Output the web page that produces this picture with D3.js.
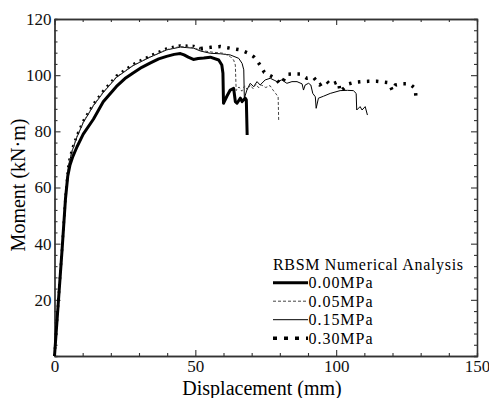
<!DOCTYPE html>
<html><head><meta charset="utf-8">
<script src="https://cdn.jsdelivr.net/npm/d3@7/dist/d3.min.js"></script>
<style>
html,body{margin:0;padding:0;background:#fff;}
svg text{font-family:"Liberation Serif","Times New Roman",serif;}
</style></head>
<body><svg id="c" width="489" height="398"></svg>
<script>
// ---- data (displacement mm, moment kN·m) ----
const legendTitle = "RBSM Numerical Analysis";
const seriesNames = ["0.00MPa","0.05MPa","0.15MPa","0.30MPa"];
const xTickLabels = [0,50,100,150];
const yTickLabels = [20,40,60,80,100,120];

const mpa000 = [[0,0],[2.7,38],[3.9,56],[4.7,64],[5.5,68],[6.5,71],[8,74.5],[10.2,79],[13.8,84.3],[17.3,90.5],[22,96],[25,98.8],[27.9,100.8],[31,102.8],[33.9,104.3],[37,105.8],[39.8,106.7],[42.5,107.4],[44.7,107.7],[46,107.2],[47.5,106.4],[49.3,105.6],[51,105.9],[53,106.1],[55.3,106.4],[58.3,105.4],[59.4,103.6],[59.8,100.7],[60,90],[61.2,92.5],[62.4,94.7],[63.6,95.3],[64.2,90.6],[64.8,90],[66,91.8],[66.6,90.6],[67.7,91.8],[68.1,91.2],[68.4,78.7]];

const mpa005 = [[0,0],[2.7,38],[3.9,56],[4.8,66],[5.1,68.6],[6.3,73.3],[7.9,78],[10.2,83.3],[13.8,89.3],[17.3,94],[22,99.4],[27.9,103.5],[33.9,106.5],[39.8,109.1],[44.7,110.2],[49.4,109.8],[51.8,108.8],[56,108.2],[60,107.8],[62.4,106.6],[63.6,105.4],[64.2,103.6],[64.5,94.5],[65.5,95.8],[66.5,94.3],[67.5,96.2],[68.5,94.8],[69.5,96.5],[70.5,95.2],[71.5,96.8],[72.5,95.5],[73.5,96.5],[75,95.6],[76.5,96.3],[77.5,94.8],[78.5,93.5],[79.4,92.3],[79.6,83.5]];

const mpa015 = [[0,0],[2.7,38],[3.9,56],[4.8,66],[5.1,68.4],[6.3,73.1],[7.9,77.8],[10.2,83.1],[13.8,89.1],[17.3,93.8],[22,99.2],[27.9,103.4],[33.9,106.4],[39.8,109],[44.7,110],[49.4,109.6],[51.8,108.6],[55.3,107.8],[59,107.6],[62.4,107.2],[65.4,106],[66.6,104.2],[67.2,101.9],[67.4,91.8],[68.3,94.7],[69.5,97.1],[70.7,95.9],[71.9,97.7],[73,96.5],[74.8,98.3],[76.6,98.9],[78,98.2],[79,97.7],[80.7,98.3],[82.5,97.1],[84.3,97.7],[86.1,97.7],[87.9,96.9],[88.4,94.7],[89,96.5],[90.2,97.1],[91,96.5],[91.7,93.5],[92.6,92.3],[92.9,88.2],[93.7,91.8],[95.5,92.5],[97.9,93.5],[101.4,94.5],[104,94.6],[106.1,94.5],[107.1,93.5],[107.3,87.6],[108.5,88.8],[109.2,87.6],[110.3,88.8],[111.1,85.8]];

const mpa030 = [[0,0],[2.7,38.3],[3.9,56.5],[4.8,66.5],[5.1,69],[6.3,73.8],[7.9,78.4],[10.2,83.7],[13.8,89.7],[17.3,94.4],[22,99.8],[27.9,103.9],[33.9,106.9],[39.8,109.5],[44.7,110.6],[49.4,110.4],[51.8,109.5],[55.3,109.9],[58.9,110.2],[62.4,109.6],[66,109],[68.9,107.8],[70.7,106.6],[72,105],[73,103.6],[74.5,101],[76,100.1],[78.4,98.9],[80.1,96.8],[81.5,98.5],[82.5,100.3],[84.3,100.4],[87.2,100.4],[89.6,98.9],[92,99.2],[94.1,96.5],[96.5,98],[97.9,96.5],[100.8,97.7],[101.4,94.1],[104.4,96.9],[106.7,97.5],[109,97.7],[111.4,97.8],[114.4,97.8],[118.6,97.3],[120,94.5],[121,96.5],[123,96.9],[126.1,96.9],[127.8,95.5],[128.2,93.9],[128.4,90.6]];

// ---- layout ----
const svg = d3.select("#c");
const X0 = 54.5, X1 = 477, Y0 = 356, Y1 = 19;
const x = d3.scaleLinear().domain([0,150]).range([X0,X1]);
const y = d3.scaleLinear().domain([0,120]).range([Y0,Y1]);
const axisColor = "#333";

function styleAxis(g){
  g.select(".domain").attr("stroke",axisColor).attr("stroke-width",1.3);
  g.selectAll(".tick line").attr("stroke",axisColor).attr("stroke-width",1.1);
  g.selectAll("text").attr("font-size",17).attr("fill","#111")
   .style("font-family","'Liberation Serif','Times New Roman',serif");
}
const xMinor = d3.range(0,151,10).filter(v=>v%50!==0);
const yMinor = d3.range(0,121,4).filter(v=>v%20!==0);
const yMajor = [0].concat(yTickLabels);

// bottom
svg.append("g").attr("transform",`translate(0,${Y0})`)
  .call(d3.axisBottom(x).tickValues(xTickLabels).tickSizeInner(-6).tickSizeOuter(0).tickPadding(4).tickFormat(d3.format("d")))
  .call(styleAxis);
svg.append("g").attr("transform",`translate(0,${Y0})`)
  .call(d3.axisBottom(x).tickValues(xMinor).tickSize(-3).tickFormat(""))
  .call(styleAxis);
// top
svg.append("g").attr("transform",`translate(0,${Y1})`)
  .call(d3.axisTop(x).tickValues(xTickLabels).tickSizeInner(-6).tickSizeOuter(0).tickFormat(""))
  .call(styleAxis);
svg.append("g").attr("transform",`translate(0,${Y1})`)
  .call(d3.axisTop(x).tickValues(xMinor).tickSize(-3).tickFormat(""))
  .call(styleAxis);
// left
svg.append("g").attr("transform",`translate(${X0},0)`)
  .call(d3.axisLeft(y).tickValues(yMajor).tickSizeInner(-6).tickSizeOuter(0).tickPadding(3).tickFormat(d=>d===0?"":d))
  .call(styleAxis);
svg.append("g").attr("transform",`translate(${X0},0)`)
  .call(d3.axisLeft(y).tickValues(yMinor).tickSize(-3).tickFormat(""))
  .call(styleAxis);
// right
svg.append("g").attr("transform",`translate(${X1},0)`)
  .call(d3.axisRight(y).tickValues(yMajor).tickSizeInner(-6).tickSizeOuter(0).tickFormat(""))
  .call(styleAxis);
svg.append("g").attr("transform",`translate(${X1},0)`)
  .call(d3.axisRight(y).tickValues(yMinor).tickSize(-3).tickFormat(""))
  .call(styleAxis);

// titles
svg.append("text").attr("x",262).attr("y",394.5).attr("text-anchor","middle")
  .attr("font-size",20).attr("fill","#000").text("Displacement (mm)");
svg.append("text").attr("transform","translate(25,185) rotate(-90)").attr("text-anchor","middle")
  .attr("font-size",20).attr("fill","#000").text("Moment (kN·m)");

// series
const line = d3.line().x(d=>x(d[0])).y(d=>y(d[1]));
function drawPath(data, w, dash, color){
  svg.append("path").datum(data).attr("d",line)
    .attr("fill","none").attr("stroke",color)
    .attr("stroke-width",w)
    .attr("stroke-dasharray",dash)
    .attr("stroke-linejoin","round");
}
// 0.30MPa: small dots along the rising branch, bigger dots afterwards
const split030 = mpa030.findIndex(d=>d[0]>=51.8);
drawPath(mpa030.slice(0,split030+1), 2.6, "2,5", "#000");
drawPath(mpa030.slice(split030), 3.5, "2.5,6.5", "#000");
drawPath(mpa015, 1, null, "#000");
drawPath(mpa005, 1, "3,2", "#444");
drawPath(mpa000, 3, null, "#000");

// legend
const lg = svg.append("g");
const legFont = 16;
lg.append("text").attr("x",273).attr("y",269.5).attr("font-size",legFont).attr("fill","#000")
  .attr("textLength",190).attr("lengthAdjust","spacing").text(legendTitle);
const legTextY = [288,306.5,325,343.5];
const legStyles = [
  {w:3, dash:null},{w:1, dash:"3,2"},{w:1, dash:null},{w:3.5, dash:"4,7"}
];
seriesNames.forEach((n,i)=>{
  const ly = legTextY[i] - 5.3;
  lg.append("line").attr("x1",273).attr("x2",308).attr("y1",ly).attr("y2",ly)
    .attr("stroke",i===1?"#444":"#000").attr("stroke-width",legStyles[i].w)
    .attr("stroke-dasharray",legStyles[i].dash);
  lg.append("text").attr("x",308.5).attr("y",legTextY[i]).attr("font-size",legFont).attr("fill","#000")
    .attr("textLength",64).attr("lengthAdjust","spacing").text(n);
});
</script></body></html>
